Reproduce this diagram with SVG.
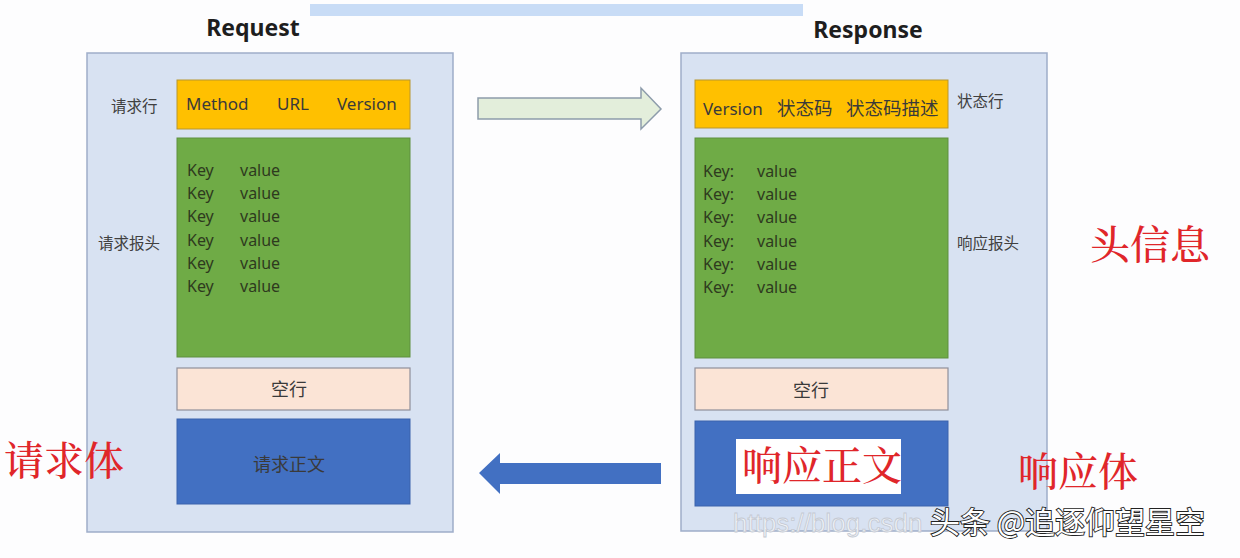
<svg xmlns="http://www.w3.org/2000/svg" width="1240" height="558" viewBox="0 0 1240 558">
<style>
.panel{fill:#d8e2f2;stroke:#9eadc9;stroke-width:1.5}
.orange{fill:#ffc000;stroke:#b8962e;stroke-width:1}
.green{fill:#6fab46;stroke:#5f8f3e;stroke-width:1}
.peach{fill:#fbe4d6;stroke:#8f8f9a;stroke-width:1.2}
.blue{fill:#4270c2;stroke:#3a62ac;stroke-width:1}
.t{font-family:"Noto Sans","Noto Sans CJK SC",sans-serif;fill:#3a3a3a}
.kv{font-family:"Noto Sans","Noto Sans CJK SC",sans-serif;font-size:16px;fill:#2e3a1e}
.lab{font-family:"Noto Sans CJK SC",sans-serif;font-size:15.5px;fill:#404040}
.red{font-family:"Noto Serif CJK SC","Noto Sans CJK SC",serif;font-size:40px;font-weight:500;fill:#e0262a}
.title{font-family:"Noto Sans","Noto Sans CJK SC",sans-serif;font-size:23px;font-weight:bold;fill:#1e1e1e}
</style>
<rect width="1240" height="558" fill="#fdfdfe"/>
<rect x="310" y="4" width="493" height="12" fill="#c8dcf6"/>
<g id="request">
<text class="title" x="253" y="36" text-anchor="middle">Request</text>
<rect class="panel" x="87" y="53" width="366" height="479"/>
</g>
<g id="response">
<text class="title" x="868" y="38" text-anchor="middle">Response</text>
<rect class="panel" x="681" y="53" width="366" height="478"/>
</g>
<g id="req-line">
<rect class="orange" x="177" y="80" width="233" height="49"/>
<text class="t" x="186" y="110" font-size="17" fill="#3a2e10">Method</text>
<text class="t" x="277" y="110" font-size="17" fill="#3a2e10">URL</text>
<text class="t" x="337" y="110" font-size="17" fill="#3a2e10">Version</text>
<text class="lab" x="111" y="112">请求行</text>
</g>
<g id="req-headers">
<rect class="green" x="177" y="138" width="233" height="219"/>
<text class="kv" x="187" y="176">Key</text><text class="kv" x="240" y="176">value</text>
<text class="kv" x="187" y="199">Key</text><text class="kv" x="240" y="199">value</text>
<text class="kv" x="187" y="222">Key</text><text class="kv" x="240" y="222">value</text>
<text class="kv" x="187" y="246">Key</text><text class="kv" x="240" y="246">value</text>
<text class="kv" x="187" y="269">Key</text><text class="kv" x="240" y="269">value</text>
<text class="kv" x="187" y="292">Key</text><text class="kv" x="240" y="292">value</text>
<text class="lab" x="98" y="249">请求报头</text>
</g>
<g id="req-blank">
<rect class="peach" x="177" y="368" width="233" height="42"/>
<text class="t" x="289" y="396" font-size="18" text-anchor="middle" fill="#444">空行</text>
</g>
<g id="req-body">
<rect class="blue" x="177" y="419" width="233" height="85"/>
<text class="t" x="289" y="471" font-size="18" text-anchor="middle" fill="#1c2438">请求正文</text>
<text class="red" x="4" y="475">请求体</text>
</g>
<g id="resp-line">
<rect class="orange" x="695" y="80" width="253" height="48"/>
<text class="t" x="703" y="115" font-size="17" fill="#3a2e10">Version</text>
<text class="t" x="777" y="115" font-size="18.5" fill="#3a2e10">状态码</text>
<text class="t" x="846" y="115" font-size="18.5" fill="#3a2e10">状态码描述</text>
<text class="lab" x="957" y="107">状态行</text>
</g>
<g id="resp-headers">
<rect class="green" x="695" y="138" width="253" height="220"/>
<text class="kv" x="703" y="177">Key:</text><text class="kv" x="757" y="177">value</text>
<text class="kv" x="703" y="200">Key:</text><text class="kv" x="757" y="200">value</text>
<text class="kv" x="703" y="223">Key:</text><text class="kv" x="757" y="223">value</text>
<text class="kv" x="703" y="247">Key:</text><text class="kv" x="757" y="247">value</text>
<text class="kv" x="703" y="270">Key:</text><text class="kv" x="757" y="270">value</text>
<text class="kv" x="703" y="293">Key:</text><text class="kv" x="757" y="293">value</text>
<text class="lab" x="957" y="249">响应报头</text>
<text class="red" x="1090" y="259">头信息</text>
</g>
<g id="resp-blank">
<rect class="peach" x="695" y="368" width="253" height="42"/>
<text class="t" x="811" y="397" font-size="18" text-anchor="middle" fill="#444">空行</text>
</g>
<g id="resp-body">
<rect class="blue" x="695" y="421" width="253" height="85"/>
<rect x="736" y="439" width="165" height="55" fill="#ffffff"/>
<text class="red" x="742" y="480">响应正文</text>
<text class="red" x="1018" y="486">响应体</text>
</g>
<g id="connectors">
<polygon points="478,98 641,98 641,88 661,109 641,129 641,119 478,119" fill="#e3eedb" stroke="#8d9cab" stroke-width="1.5"/>
<polygon points="661,463 500,463 500,453 479,473 500,494 500,484 661,484" fill="#4270c2"/>
</g>
<g id="watermark">
<text x="733" y="532" font-family="Liberation Sans,sans-serif" font-size="26" fill="#eef1f6" stroke="#c4c9d2" stroke-width="0.8">https://blog.csdn</text>
<text x="930" y="533" font-family="Noto Sans CJK SC,sans-serif" font-size="30" fill="#ffffff" stroke="#222222" stroke-width="1.8" paint-order="stroke">头条 @追逐仰望星空</text>
</g>
</svg>
